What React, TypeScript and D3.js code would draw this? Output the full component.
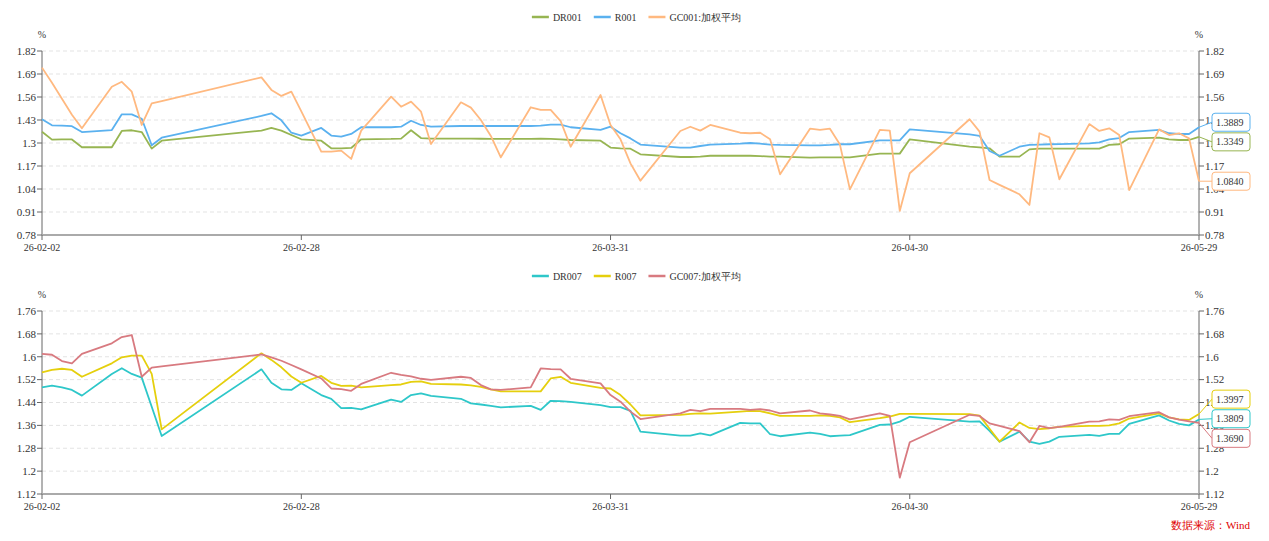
import { useEffect, useRef } from "react";
import * as d3 from "d3";

// trading days (2026), x axis is a real time scale
const dates = [
  "2026-02-02", "2026-02-03", "2026-02-04", "2026-02-05", "2026-02-06", "2026-02-09", "2026-02-10", "2026-02-11",
  "2026-02-12", "2026-02-13", "2026-02-14", "2026-02-24", "2026-02-25", "2026-02-26", "2026-02-27", "2026-02-28",
  "2026-03-02", "2026-03-03", "2026-03-04", "2026-03-05", "2026-03-06", "2026-03-09", "2026-03-10", "2026-03-11",
  "2026-03-12", "2026-03-13", "2026-03-16", "2026-03-17", "2026-03-18", "2026-03-19", "2026-03-20", "2026-03-23",
  "2026-03-24", "2026-03-25", "2026-03-26", "2026-03-27", "2026-03-30", "2026-03-31", "2026-04-01", "2026-04-02",
  "2026-04-03", "2026-04-07", "2026-04-08", "2026-04-09", "2026-04-10", "2026-04-13", "2026-04-14", "2026-04-15",
  "2026-04-16", "2026-04-17", "2026-04-20", "2026-04-21", "2026-04-22", "2026-04-23", "2026-04-24", "2026-04-27",
  "2026-04-28", "2026-04-29", "2026-04-30", "2026-05-06", "2026-05-07", "2026-05-08", "2026-05-09", "2026-05-11",
  "2026-05-12", "2026-05-13", "2026-05-14", "2026-05-15", "2026-05-18", "2026-05-19", "2026-05-20", "2026-05-21",
  "2026-05-22", "2026-05-25", "2026-05-26", "2026-05-27", "2026-05-28", "2026-05-29",
];

const xTickDates = ["2026-02-02", "2026-02-28", "2026-03-31", "2026-04-30", "2026-05-29"];

// overnight
const dr001 = [
  1.364, 1.319, 1.32, 1.32, 1.276, 1.276, 1.368, 1.372, 1.362, 1.268, 1.313, 1.37, 1.385, 1.37, 1.345, 1.321,
  1.313, 1.27, 1.27, 1.272, 1.321, 1.323, 1.325, 1.372, 1.328, 1.325, 1.325, 1.325, 1.324, 1.323, 1.323, 1.323,
  1.325, 1.323, 1.321, 1.317, 1.313, 1.274, 1.27, 1.268, 1.236, 1.221, 1.221, 1.223, 1.228, 1.228, 1.228, 1.226,
  1.223, 1.223, 1.217, 1.219, 1.219, 1.219, 1.219, 1.24, 1.24, 1.24, 1.321, 1.28, 1.275, 1.27, 1.223, 1.223,
  1.264, 1.268, 1.268, 1.268, 1.268, 1.268, 1.289, 1.293, 1.325, 1.33, 1.321, 1.317, 1.317, 1.3349,
];
const r001 = [
  1.434, 1.4, 1.398, 1.395, 1.362, 1.373, 1.462, 1.462, 1.437, 1.287, 1.33, 1.453, 1.468, 1.428, 1.358, 1.342,
  1.385, 1.342, 1.336, 1.351, 1.389, 1.389, 1.392, 1.426, 1.402, 1.392, 1.396, 1.396, 1.396, 1.396, 1.396, 1.396,
  1.398, 1.404, 1.404, 1.389, 1.374, 1.392, 1.355, 1.326, 1.291, 1.274, 1.274, 1.283, 1.291, 1.296, 1.3, 1.296,
  1.291, 1.289, 1.287, 1.287, 1.289, 1.293, 1.293, 1.315, 1.315, 1.315, 1.377, 1.349, 1.34, 1.255, 1.228, 1.279,
  1.289, 1.291, 1.293, 1.294, 1.298, 1.304, 1.321, 1.328, 1.362, 1.374, 1.355, 1.351, 1.351, 1.3889,
];
const gc001 = [
  1.726, 1.64, 1.55, 1.46, 1.383, 1.618, 1.646, 1.59, 1.402, 1.524, 1.537, 1.671, 1.6, 1.566, 1.59, 1.479,
  1.251, 1.251, 1.257, 1.21, 1.37, 1.562, 1.505, 1.534, 1.477, 1.294, 1.53, 1.5, 1.43, 1.34, 1.219, 1.502,
  1.487, 1.487, 1.424, 1.279, 1.571, 1.402, 1.321, 1.185, 1.087, 1.368, 1.392, 1.37, 1.402, 1.358, 1.355, 1.358,
  1.321, 1.123, 1.381, 1.374, 1.381, 1.291, 1.038, 1.374, 1.37, 0.916, 1.129, 1.434, 1.364, 1.091, 1.063, 1.01,
  0.95, 1.355, 1.332, 1.095, 1.407, 1.368, 1.383, 1.345, 1.034, 1.377, 1.345, 1.355, 1.326, 1.084,
];

// 7-day
const dr007 = [
  1.493, 1.499, 1.493, 1.484, 1.464, 1.54, 1.56, 1.54, 1.527, 1.425, 1.323, 1.556, 1.509, 1.486, 1.484, 1.507,
  1.466, 1.453, 1.42, 1.421, 1.416, 1.45, 1.442, 1.466, 1.472, 1.463, 1.453, 1.437, 1.433, 1.428, 1.423, 1.428,
  1.414, 1.446, 1.445, 1.442, 1.431, 1.424, 1.424, 1.411, 1.338, 1.324, 1.324, 1.332, 1.325, 1.369, 1.367, 1.367,
  1.329, 1.322, 1.335, 1.33, 1.322, 1.324, 1.326, 1.362, 1.363, 1.373, 1.39, 1.373, 1.374, 1.341, 1.303, 1.338,
  1.303, 1.295, 1.303, 1.32, 1.327, 1.323, 1.33, 1.33, 1.365, 1.395, 1.377, 1.365, 1.36, 1.3809,
];
const r007 = [
  1.545, 1.554, 1.558, 1.554, 1.53, 1.577, 1.598, 1.604, 1.604, 1.54, 1.346, 1.612, 1.589, 1.563, 1.531, 1.509,
  1.533, 1.509, 1.498, 1.499, 1.493, 1.501, 1.503, 1.512, 1.514, 1.505, 1.503, 1.5, 1.495, 1.486, 1.479, 1.479,
  1.479, 1.524, 1.53, 1.509, 1.491, 1.489, 1.466, 1.433, 1.395, 1.397, 1.4, 1.402, 1.401, 1.408, 1.411, 1.41,
  1.402, 1.393, 1.393, 1.395, 1.393, 1.388, 1.371, 1.385, 1.391, 1.4, 1.4, 1.399, 1.394, 1.348, 1.303, 1.37,
  1.351, 1.347, 1.35, 1.355, 1.358, 1.358, 1.36, 1.367, 1.384, 1.402, 1.388, 1.381, 1.379, 1.3997,
];
const gc007 = [
  1.61, 1.607, 1.585, 1.577, 1.61, 1.647, 1.669, 1.676, 1.53, 1.562, 1.566, 1.608, 1.598, 1.586, 1.571, 1.556,
  1.524, 1.489, 1.487, 1.481, 1.505, 1.544, 1.537, 1.531, 1.523, 1.519, 1.53, 1.526, 1.501, 1.486, 1.484, 1.493,
  1.559, 1.557, 1.556, 1.523, 1.507, 1.466, 1.443, 1.408, 1.382, 1.402, 1.414, 1.41, 1.418, 1.418, 1.414, 1.417,
  1.412, 1.402, 1.412, 1.402, 1.398, 1.393, 1.381, 1.402, 1.393, 1.177, 1.301, 1.397, 1.393, 1.367, 1.358, 1.34,
  1.301, 1.358, 1.35, 1.355, 1.373, 1.374, 1.381, 1.379, 1.392, 1.406, 1.388, 1.38, 1.374, 1.369,
];

const FONT = '"Liberation Serif", "Times New Roman", serif';
const X0 = 42;
const X1 = 1199;

const panels = [
  {
    top: 51, bottom: 235, domain: [0.78, 1.82], step: 0.13, legendY: 17,
    series: [
      { name: "DR001", color: "#97b552", values: dr001 },
      { name: "R001", color: "#5ab1ef", values: r001 },
      { name: "GC001:加权平均", color: "#ffb980", values: gc001 },
    ],
  },
  {
    top: 311, bottom: 494, domain: [1.12, 1.76], step: 0.08, legendY: 276,
    series: [
      { name: "DR007", color: "#2ec7c9", values: dr007 },
      { name: "R007", color: "#e5cf0d", values: r007 },
      { name: "GC007:加权平均", color: "#d87a80", values: gc007 },
    ],
  },
];

// push end labels apart, keeping each overlapping group centred on its points
function spread(ys: number[], gap: number) {
  const order = ys.map((y, i) => ({ y, i })).sort((a, b) => a.y - b.y);
  let groups = order.map((o) => ({ items: [o], start: o.y }));
  let merged = true;
  while (merged) {
    merged = false;
    for (let k = 1; k < groups.length; k++) {
      const a = groups[k - 1], b = groups[k];
      if (a.start + a.items.length * gap > b.start) {
        const items = a.items.concat(b.items);
        const mean = d3.mean(items, (d) => d.y) as number;
        groups.splice(k - 1, 2, { items, start: mean - ((items.length - 1) * gap) / 2 });
        merged = true;
        break;
      }
    }
  }
  const out: number[] = [];
  groups.forEach((g) => g.items.forEach((it, j) => (out[it.i] = g.start + j * gap)));
  return out;
}

export default function App() {
  const svgRef = useRef<SVGSVGElement>(null);

  useEffect(() => {
    if (!svgRef.current) return;
    const svg = d3.select(svgRef.current);
    svg.html("");

    const parse = d3.utcParse("%Y-%m-%d");
    const xDates = dates.map((d) => parse(d) as Date);
    const x = d3.scaleUtc().domain([xDates[0], xDates[xDates.length - 1]]).range([X0, X1]);
    const fmtTick = d3.utcFormat("%y-%m-%d");

    panels.forEach((p) => {
      const y = d3.scaleLinear().domain(p.domain).range([p.bottom, p.top]);
      const ticks = d3.range(0, 9).map((i) => +(p.domain[0] + i * p.step).toFixed(2));
      const g = svg.append("g");

      // grid
      g.selectAll("line.grid")
        .data(ticks.slice(1))
        .join("line")
        .attr("x1", X0).attr("x2", X1)
        .attr("y1", (d) => y(d)).attr("y2", (d) => y(d))
        .attr("stroke", "#e3e3e3")
        .attr("stroke-dasharray", "4,3");

      // y axes (left + right)
      [
        { xa: X0, dir: -1, anchor: "end" },
        { xa: X1, dir: 1, anchor: "start" },
      ].forEach((a) => {
        g.append("line")
          .attr("x1", a.xa).attr("x2", a.xa)
          .attr("y1", p.top).attr("y2", p.bottom)
          .attr("stroke", "#666");
        g.selectAll(null)
          .data(ticks)
          .join("line")
          .attr("x1", a.xa).attr("x2", a.xa + a.dir * 5)
          .attr("y1", (d) => y(d)).attr("y2", (d) => y(d))
          .attr("stroke", "#666");
        g.selectAll(null)
          .data(ticks)
          .join("text")
          .attr("x", a.xa + a.dir * 6)
          .attr("y", (d) => y(d))
          .attr("dy", "0.35em")
          .attr("text-anchor", a.anchor)
          .attr("font-family", FONT)
          .attr("font-size", 11)
          .attr("fill", "#333")
          .text((d) => String(d));
        g.append("text")
          .attr("x", a.xa)
          .attr("y", p.top - 13)
          .attr("text-anchor", "middle")
          .attr("font-family", FONT)
          .attr("font-size", 10)
          .attr("fill", "#333")
          .text("%");
      });

      // x axis
      g.append("line")
        .attr("x1", X0).attr("x2", X1)
        .attr("y1", p.bottom).attr("y2", p.bottom)
        .attr("stroke", "#aaa")
        .attr("stroke-width", 2);
      const xt = xTickDates.map((d) => parse(d) as Date);
      g.selectAll(null)
        .data(xt)
        .join("line")
        .attr("x1", (d) => x(d)).attr("x2", (d) => x(d))
        .attr("y1", p.bottom).attr("y2", p.bottom + 5)
        .attr("stroke", "#666");
      g.selectAll(null)
        .data(xt)
        .join("text")
        .attr("x", (d) => x(d))
        .attr("y", p.bottom + 16)
        .attr("text-anchor", "middle")
        .attr("font-family", FONT)
        .attr("font-size", 10)
        .attr("fill", "#333")
        .text((d) => fmtTick(d));

      // lines
      const line = d3.line<number>()
        .x((_, i) => x(xDates[i]))
        .y((d) => y(d));
      p.series.forEach((s) => {
        g.append("path")
          .datum(s.values)
          .attr("fill", "none")
          .attr("stroke", s.color)
          .attr("stroke-width", 1.8)
          .attr("stroke-linejoin", "round")
          .attr("d", line);
      });

      // end labels
      const endY = p.series.map((s) => y(s.values[s.values.length - 1]));
      const labY = spread(endY, 19.6);
      p.series.forEach((s, i) => {
        const v = s.values[s.values.length - 1];
        g.append("polyline")
          .attr("points", `${X1},${endY[i]} ${X1 + 13},${labY[i]}`)
          .attr("fill", "none")
          .attr("stroke", s.color)
          .attr("stroke-width", 1);
        g.append("rect")
          .attr("x", X1 + 13).attr("y", labY[i] - 9)
          .attr("width", 38).attr("height", 18)
          .attr("rx", 3)
          .attr("fill", "#fff")
          .attr("stroke", s.color);
        g.append("text")
          .attr("x", X1 + 17).attr("y", labY[i])
          .attr("dy", "0.35em")
          .attr("font-family", FONT)
          .attr("font-size", 10)
          .attr("fill", "#333")
          .text(v.toFixed(4));
      });

      // legend, centred on the page
      const leg = g.append("g");
      let cx = 0;
      p.series.forEach((s, i) => {
        if (i > 0) cx += 12;
        leg.append("line")
          .attr("x1", cx).attr("x2", cx + 17)
          .attr("y1", p.legendY).attr("y2", p.legendY)
          .attr("stroke", s.color)
          .attr("stroke-width", 2.5);
        const t = leg.append("text")
          .attr("x", cx + 21)
          .attr("y", p.legendY)
          .attr("dy", "0.35em")
          .attr("font-family", FONT)
          .attr("font-size", 10)
          .attr("fill", "#333")
          .text(s.name);
        cx += 21 + (t.node() as SVGTextElement).getComputedTextLength();
      });
      leg.attr("transform", `translate(${(1269 - cx) / 2 + 2},0)`);
    });

    svg.append("text")
      .attr("x", 1250)
      .attr("y", 529)
      .attr("text-anchor", "end")
      .attr("font-family", FONT)
      .attr("font-size", 11)
      .attr("fill", "#e00000")
      .text("数据来源：Wind");
  }, []);

  return (
    <svg
      ref={svgRef}
      width={1269}
      height={541}
      style={{ position: "absolute", left: 0, top: 0, background: "#fff" }}
    />
  );
}
